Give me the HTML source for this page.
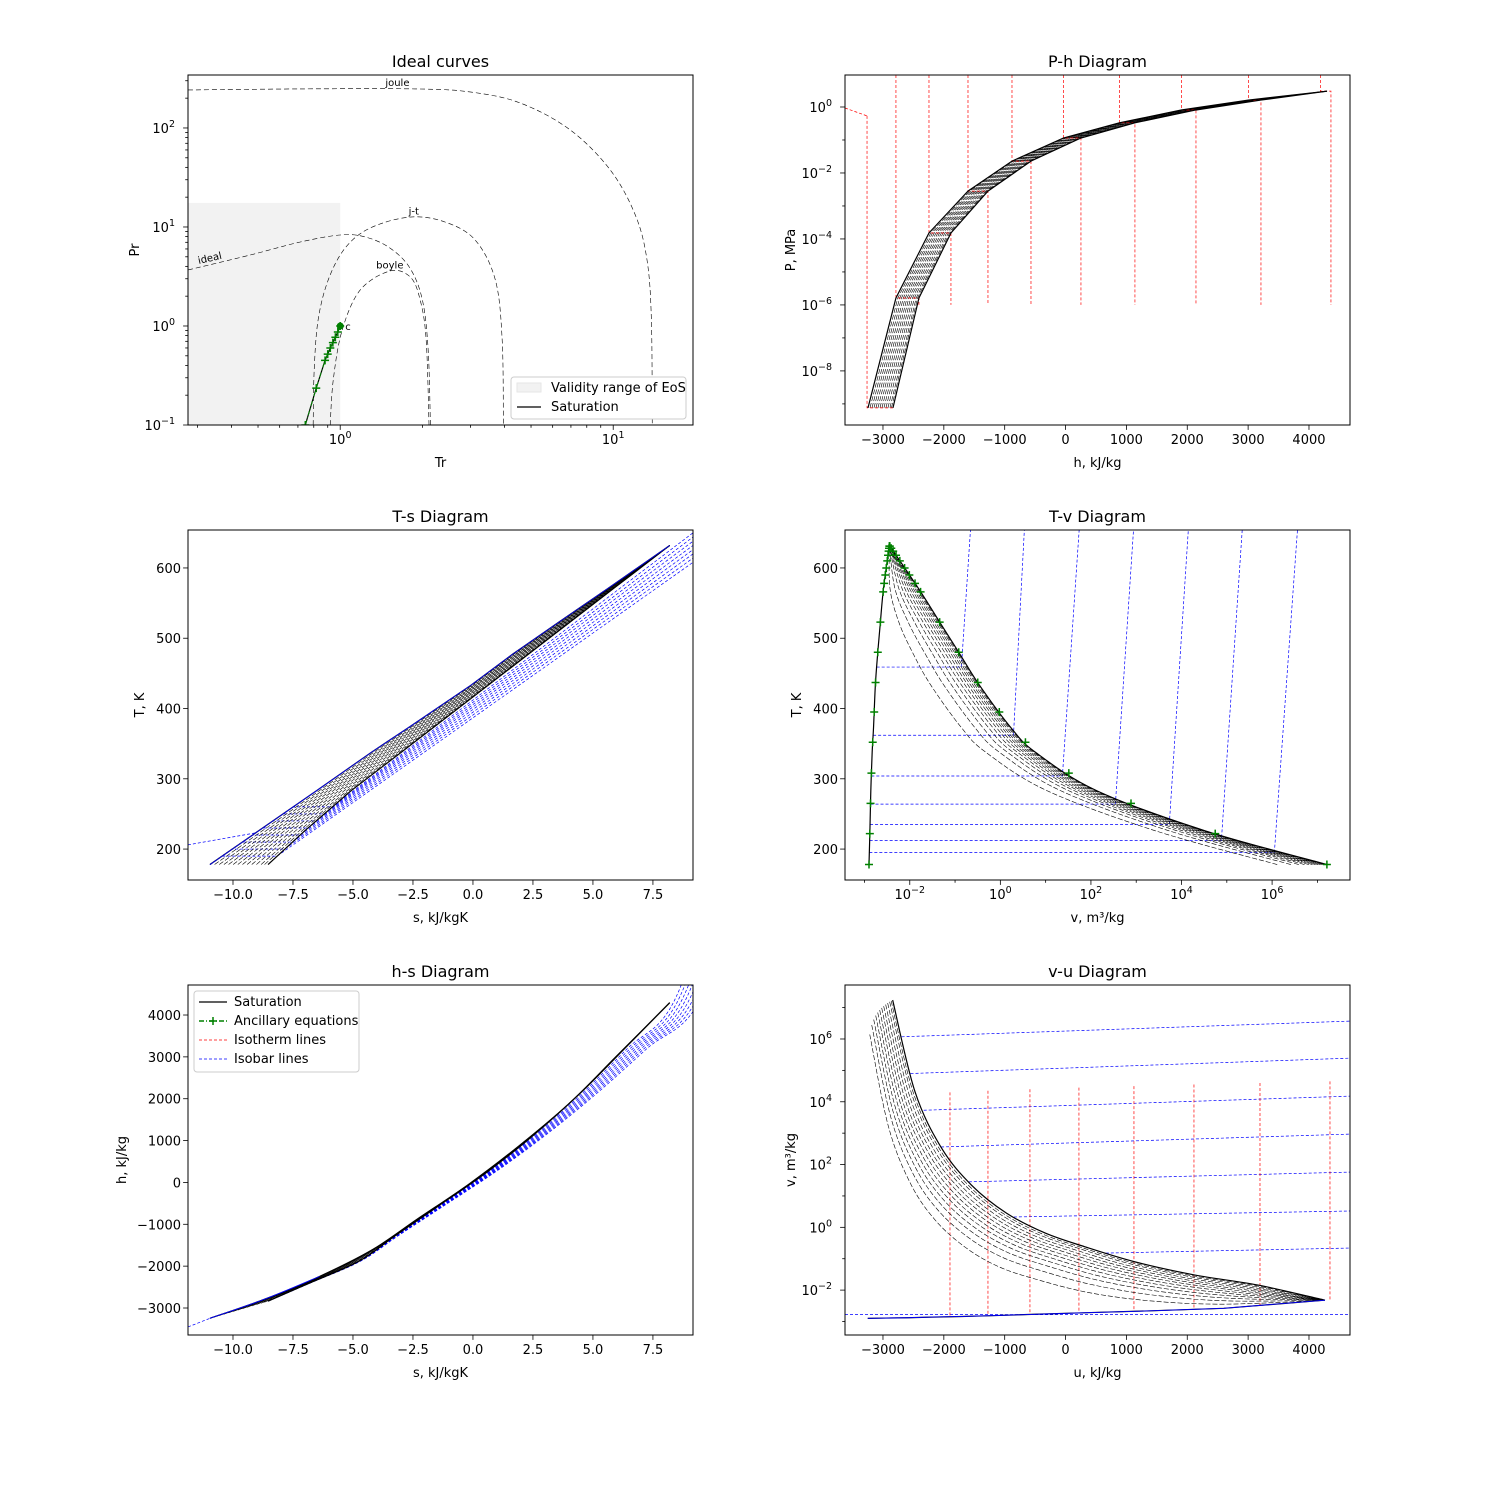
<!DOCTYPE html>
<html><head><meta charset="utf-8"><title>Thermodynamic diagrams</title>
<style>body{margin:0;background:#fff}svg{display:block}text{font-family:"DejaVu Sans","Liberation Sans",sans-serif;fill:#000}</style>
</head><body>
<svg id="chart" width="1500" height="1500" viewBox="0 0 1500 1500"><rect width="1500" height="1500" fill="#fff"/></svg>
<script>
// ---------- data ----------
const satT=[178,226,283,338,373,433,477,522,571,632];
const satLogP=[-9.12,-5.79,-3.82,-2.55,-1.64,-0.94,-0.48,-0.09,0.21,0.48];
const satHl=[-3246,-2787,-2244,-1603,-880,-36,884,1903,3004,4295];
const satHv=[-2836,-2409,-1883,-1275,-568,253,1140,2143,3211,4295];
// T-s entropies
const satSl=[-10.96,-8.93,-6.52,-4.22,-2.68,-0.09,1.64,3.54,5.63,8.2];
const tsSv=[-8.54,-7.01,-5.08,-2.98,-1.65,0.63,2.30,4.01,5.87,8.2];
// h-s entropies
const hsSl=[-10.96,-8.67,-6.39,-4.18,-2.33,-0.16,1.94,4.04,5.96,8.2];
const hsSv=[-8.54,-6.83,-4.75,-3.24,-1.45,0.60,2.55,4.49,6.34,8.2];
// T-v volumes
const satLogVl=[-2.9,-2.88,-2.86,-2.83,-2.8,-2.76,-2.71,-2.65,-2.58,-2.45];
const satLogVv=[7.21,4.52,2.13,0.77,0.23,-0.46,-0.89,-1.33,-1.81,-2.45];
// v-u saturation
const vuUl=[-3250,-2950,-2600,-2200,-1700,-1150,-500,350,1400,2600,4263];
const vuUv=[-2841,-2474,-2036,-1543,-968,-338,319,1141,2127,3162,4263];
const vuLvl=[-2.9,-2.89,-2.88,-2.86,-2.84,-2.81,-2.77,-2.72,-2.66,-2.58,-2.32];
const vuLvv=[7.24,4.32,2.52,1.34,0.45,-0.18,-0.62,-1.10,-1.52,-1.84,-2.32];
const qualities=[0.08,0.16,0.24,0.32,0.4,0.48,0.56,0.64,0.72,0.8,0.88,0.94];
// ideal curves
const jouleTr=[0.277,0.714,1.88,2.99,4.56,6.96,9.75,12.05,13.3,13.8,13.9];
const joulePr=[242,248,248,231,179,95.5,37.7,13.2,4.64,1.15,0.1];
const idealTr=[0.277,0.468,0.714,1.0,1.235,1.52,1.80,2.0,2.10,2.14];
const idealPr=[3.68,5.21,7.05,8.3,7.93,6.14,3.85,1.83,0.573,0.1];
const jtTr=[0.796,0.803,0.830,0.904,1.043,1.288,1.805,2.425,3.12,3.70,3.92,3.96];
const jtPr=[0.1,0.36,1.15,2.92,6.14,9.77,12.6,11.2,7.39,2.92,0.72,0.1];
const boyleTr=[0.919,0.943,1.017,1.184,1.52,1.805,1.963,2.065,2.115];
const boylePr=[0.1,0.285,0.911,2.31,3.59,3.13,1.83,0.72,0.1];
const satTr=[0.745,0.817,0.88,0.9,0.92,0.94,0.96,0.98,1.0];
const satPr=[0.1,0.236,0.45,0.52,0.6,0.68,0.77,0.87,1.0];
const validTrMax=1.0, validPrMax=17.5;
// P-h isotherms
const isoTHl=[-3262,-2787,-2244,-1603,-880,-36,884,1903,3004,4187];
const isoTLogP=[-9.12,-5.79,-3.82,-2.55,-1.64,-0.94,-0.48,-0.09,0.21,0.48];
const isoTHv=[-2836,-2409,-1883,-1275,-568,253,1140,2143,3211,4361];
// T-s isobars
const tsIsoT=[190,200,210,220,230,240,250,260];
const tsIsoEndT=[608,614,620,626,632,638,644,650];
// T-v isobars
const tvIsoT=[195,212,235,264,304,362,459];
const tvIsoLvStart=[6.05,4.88,3.73,2.54,1.37,0.29,-0.86];
const tvIsoLvTop=[6.56,5.34,4.15,2.94,1.74,0.53,-0.66];
const ancT=[178,222,265,308,352,395,437,480,523,566,578,590,600,610,618,624,628,631];
// h-s isobars: entropy shift at the top of the vapor curve
const hsIsoShift=[0.15,0.3,0.45,0.6,0.75,0.9,1.05,1.2];
// v-u
const vuIsoLvStart=[6.07,4.9,3.73,2.56,1.45,0.33,-0.82];
const vuIsoLvEnd=[6.57,5.39,4.18,2.97,1.76,0.52,-0.66];
const vuIsoTU=[-1899,-1275,-585,220,1124,2110,3195,4345];
const vuIsoTTop=[4.3,4.35,4.4,4.45,4.5,4.55,4.6,4.65];

// ---------- helpers ----------
const NS='http://www.w3.org/2000/svg';
const svg=document.getElementById('chart');
function mk(tag,attrs,parent,name){
  const e=document.createElementNS(NS,tag);
  for(const k in attrs) e.setAttribute(k,attrs[k]);
  
  
  parent.appendChild(e);return e;
}
function interp(x,xs,ys){
  if(x<=xs[0])return ys[0];
  for(let i=1;i<xs.length;i++){ if(x<=xs[i]){const f=(x-xs[i-1])/(xs[i]-xs[i-1]);return ys[i-1]+f*(ys[i]-ys[i-1]);} }
  return ys[ys.length-1];
}
let clipN=0;
function axes(name,l,t,r,b,xmin,xmax,ymin,ymax,xlog,ylog){
  const g=mk('g',{},svg,name);
  const id='clip'+(clipN++);
  const cp=mk('clipPath',{id:id},g,name+'-clip');
  mk('rect',{x:l,y:t,width:r-l,height:b-t},cp,name+'-clip-rect');
  const plot=mk('g',{'clip-path':'url(#'+id+')'},g,name+'-plot-area');
  const sx=v=>l+((xlog?Math.log10(v):v)-xmin)/(xmax-xmin)*(r-l);
  const sy=v=>b-((ylog?Math.log10(v):v)-ymin)/(ymax-ymin)*(b-t);
  return {g,plot,l,t,r,b,sx,sy,name};
}
function line(ax,xs,ys,style,name){
  const P=xs.map((x,i)=>[ax.sx(x),ax.sy(ys[i])]);
  let d='M'+P[0][0].toFixed(2)+','+P[0][1].toFixed(2);
  for(let i=1;i<P.length;i++){
    if(style.smooth){
      const p0=P[Math.max(0,i-2)],p1=P[i-1],p2=P[i],p3=P[Math.min(P.length-1,i+1)];
      const c1=[p1[0]+(p2[0]-p0[0])/6,p1[1]+(p2[1]-p0[1])/6],c2=[p2[0]-(p3[0]-p1[0])/6,p2[1]-(p3[1]-p1[1])/6];
      d+='C'+c1[0].toFixed(2)+','+c1[1].toFixed(2)+' '+c2[0].toFixed(2)+','+c2[1].toFixed(2)+' '+p2[0].toFixed(2)+','+p2[1].toFixed(2);
    } else d+='L'+P[i][0].toFixed(2)+','+P[i][1].toFixed(2);
  }
  const a={d:d,fill:'none',stroke:style.c||'#000','stroke-width':style.w||1};
  if(style.dash)a['stroke-dasharray']=style.dash;
  return mk('path',a,ax.plot,name);
}
function plus(ax,x,y,name,parent){
  const X=ax.sx(x),Y=ax.sy(y),s=4;
  mk('path',{d:`M${X-s},${Y}H${X+s}M${X},${Y-s}V${Y+s}`,stroke:'#008000','stroke-width':1.5,fill:'none'},parent||ax.plot,name);
}
function label(parent,x,y,anchor,str,exp,name,size){
  const t=mk('text',{x:x,y:y,'text-anchor':anchor,'font-size':size||13},parent,name);
  t.textContent=str;
  if(exp!==undefined&&exp!==null){
    const ts=mk('tspan',{dy:-6,'font-size':9.5},t,name+'-exponent');
    ts.textContent=exp;
  }
  return t;
}
function mf(v){return (v<0?'\u2212':'')+Math.abs(v);}
function xtick(ax,px,len,lab,exp){
  mk('line',{x1:px,x2:px,y1:ax.b,y2:ax.b+len,stroke:'#000','stroke-width':0.8},ax.g,ax.name+'-x-tick');
  if(lab!==null) label(ax.g,px,ax.b+19,'middle',lab,exp,ax.name+'-x-tick-label');
}
function ytick(ax,py,len,lab,exp){
  mk('line',{x1:ax.l-len,x2:ax.l,y1:py,y2:py,stroke:'#000','stroke-width':0.8},ax.g,ax.name+'-y-tick');
  if(lab!==null) label(ax.g,ax.l-7-(exp!=null?6:0),py+5,'end',lab,exp,ax.name+'-y-tick-label');
}
function logTicksX(ax,lo,hi,labelled,subs){
  for(let e=lo;e<=hi;e++){
    const p=ax.sx(Math.pow(10,e));
    if(p>=ax.l-0.5&&p<=ax.r+0.5){ if(labelled(e)) xtick(ax,p,4.9,'10',mf(e)); else xtick(ax,p,2.8,null); }
    if(subs) for(let s=2;s<10;s++){const q=ax.sx(s*Math.pow(10,e)); if(q>=ax.l&&q<=ax.r) xtick(ax,q,2.8,null);}
  }
}
function logTicksY(ax,lo,hi,labelled,subs){
  for(let e=lo;e<=hi;e++){
    const p=ax.sy(Math.pow(10,e));
    if(p>=ax.t-0.5&&p<=ax.b+0.5){ if(labelled(e)) ytick(ax,p,4.9,'10',mf(e)); else ytick(ax,p,2.8,null); }
    if(subs) for(let s=2;s<10;s++){const q=ax.sy(s*Math.pow(10,e)); if(q>=ax.t&&q<=ax.b) ytick(ax,q,2.8,null);}
  }
}
function frame(ax,title,xl,yl,ylx){
  mk('rect',{x:ax.l,y:ax.t,width:ax.r-ax.l,height:ax.b-ax.t,fill:'none',stroke:'#000','stroke-width':1},ax.g,ax.name+'-frame');
  label(ax.g,(ax.l+ax.r)/2,ax.t-8,'middle',title,null,ax.name+'-title',16);
  label(ax.g,(ax.l+ax.r)/2,ax.b+42,'middle',xl,null,ax.name+'-x-axis-title');
  const yt=mk('text',{x:0,y:0,'text-anchor':'middle','font-size':13,transform:`translate(${ylx},${(ax.t+ax.b)/2}) rotate(-90)`},ax.g,ax.name+'-y-axis-title');
  yt.textContent=yl;
}
const P10=v=>Math.pow(10,v);
const blue={c:'#0000ff',w:0.7,dash:'3,2'}, red={c:'#ff0000',w:0.7,dash:'3,2'}, blk={c:'#000',w:0.6,dash:'5,2'};
const blkS={c:'#000',w:0.6,dash:'5,2',smooth:true};
const sat={c:'#000',w:1.2}, satS={c:'#000',w:1.2,smooth:true};

// ---------- 1. Ideal curves ----------
(function(){
  const ax=axes('ideal-curves-chart',188,75,693,425,Math.log10(0.277),Math.log10(19.6),-1,2.535,true,true);
  mk('rect',{x:ax.l,y:ax.sy(validPrMax),width:ax.sx(validTrMax)-ax.l,height:ax.b-ax.sy(validPrMax),fill:'#f2f2f2'},ax.plot,'validity-range-area');
  const dsh={c:'#000',w:0.6,dash:'5,3',smooth:true};
  line(ax,jouleTr,joulePr,dsh,'joule-curve');
  line(ax,idealTr,idealPr,dsh,'ideal-curve');
  line(ax,jtTr,jtPr,dsh,'jt-curve');
  line(ax,boyleTr,boylePr,dsh,'boyle-curve');
  line(ax,satTr,satPr,{c:'#000',w:1.2},'saturation-line');
  line(ax,satTr,satPr,{c:'#008000',w:1,dash:'5,2,1,2'},'ancillary-line');
  for(let i=0;i<satTr.length;i++) plus(ax,satTr[i],satPr[i],'ancillary-marker');
  mk('circle',{cx:ax.sx(1),cy:ax.sy(1),r:3.5,fill:'#008000'},ax.plot,'critical-point');
  label(ax.plot,ax.sx(1)+5,ax.sy(1)+4,'start','c',null,'critical-point-label',10);
  label(ax.plot,ax.sx(1.62),ax.sy(265),'middle','joule',null,'joule-label',10);
  label(ax.plot,ax.sx(1.86),ax.sy(13.3),'middle','j-t',null,'jt-label',10);
  label(ax.plot,ax.sx(1.52),ax.sy(3.8),'middle','boyle',null,'boyle-label',10);
  const il=mk('text',{x:0,y:0,'font-size':10,'text-anchor':'middle',transform:`translate(${ax.sx(0.335)},${ax.sy(4.5)}) rotate(-13)`},ax.plot,'ideal-label');il.textContent='ideal';
  logTicksX(ax,-1,1,e=>e>=0,true);
  logTicksY(ax,-1,2,e=>true,true);
  frame(ax,'Ideal curves','Tr','Pr',139);
  const lg=mk('g',{},ax.g,'ideal-legend');
  mk('rect',{x:511,y:377,width:175,height:42,rx:3,fill:'#fff',stroke:'#ccc','stroke-width':1},lg,'legend-box');
  mk('rect',{x:517,y:383,width:24,height:9,fill:'#f2f2f2',stroke:'#e6e6e6'},lg,'legend-validity-patch');
  label(lg,551,392,'start','Validity range of EoS',null,'legend-validity-text');
  mk('line',{x1:517,x2:541,y1:407,y2:407,stroke:'#000','stroke-width':1.2},lg,'legend-saturation-line');
  label(lg,551,411,'start','Saturation',null,'legend-saturation-text');
})();

// ---------- 2. P-h ----------
(function(){
  const ax=axes('ph-chart',845,75,1350,425,-3624,4674,-9.64,0.97,false,true);
  for(const q of qualities){const h=satHl.map((v,i)=>v+q*(satHv[i]-v));line(ax,h,satLogP.map(P10),blk,'quality-line');}
  line(ax,[-3624,isoTHl[0]],[P10(-0.03),P10(-0.27)],red,'isotherm-line');
  for(let i=0;i<isoTHl.length;i++){
    const hs=[isoTHl[i],isoTHl[i],isoTHv[i]], ps=[i===0?P10(-0.27):P10(0.97),P10(isoTLogP[i]),P10(isoTLogP[i])];
    if(isoTLogP[i]>-6){hs.push(isoTHv[i]);ps.push(P10(-6));}
    line(ax,hs,ps,red,'isotherm-line');
  }
  line(ax,satHl,satLogP.map(P10),sat,'saturation-liquid-line');
  line(ax,satHv,satLogP.map(P10),sat,'saturation-vapor-line');
  for(let v=-3000;v<=4000;v+=1000) xtick(ax,ax.sx(v),4.9,mf(v));
  logTicksY(ax,-9,0,e=>e%2===0,false);
  frame(ax,'P-h Diagram','h, kJ/kg','P, MPa',795);
})();

// ---------- 3. T-s ----------
(function(){
  const ax=axes('ts-chart',188,530,693,880,-11.875,9.17,156,654,false,false);
  line(ax,[-11.875,-9.07],[206,223],blue,'isobar-line');
  for(let k=0;k<tsIsoT.length;k++){
    const T=tsIsoT[k],sl=interp(T,satT,satSl),sv=interp(T,satT,tsSv);
    line(ax,[satSl[0],sl,sv,9.17],[satT[0],T,T,tsIsoEndT[k]],blue,'isobar-line');
  }
  for(const q of qualities){const s=satSl.map((v,i)=>v+q*(tsSv[i]-v));line(ax,s,satT,blk,'quality-line');}
  line(ax,satSl,satT,sat,'saturation-liquid-line');
  line(ax,tsSv,satT,sat,'saturation-vapor-line');
  line(ax,satSl,satT,{c:'#0000ff',w:0.8},'isobar-liquid-line');
  for(let v=-10;v<=7.5;v+=2.5) xtick(ax,ax.sx(v),4.9,mf(v.toFixed(1)*1).replace(/^(\u2212?\d+)$/,'$1.0'));
  for(let v=200;v<=600;v+=100) ytick(ax,ax.sy(v),4.9,String(v));
  frame(ax,'T-s Diagram','s, kJ/kgK','T, K',144);
})();

// ---------- 4. T-v ----------
(function(){
  const ax=axes('tv-chart',845,530,1350,880,-3.43,7.72,156,654,true,false);
  for(let k=0;k<tvIsoT.length;k++){
    const T=tvIsoT[k],lv=interp(T,satT,satLogVl);
    line(ax,[P10(lv),P10(tvIsoLvStart[k]),P10(tvIsoLvTop[k])],[T,T,654],blue,'isobar-line');
  }
  for(const q of qualities){const v=satLogVl.map((lv,i)=>P10(lv)+q*(P10(satLogVv[i])-P10(lv)));line(ax,v,satT,blkS,'quality-line');}
  line(ax,satLogVl.map(P10),satT,satS,'saturation-liquid-line');
  line(ax,satLogVv.map(P10),satT,satS,'saturation-vapor-line');
  for(const T of ancT){plus(ax,P10(interp(T,satT,satLogVl)),T,'ancillary-marker');plus(ax,P10(interp(T,satT,satLogVv)),T,'ancillary-marker');}
  logTicksX(ax,-3,7,e=>e%2===0,false);
  for(let v=200;v<=600;v+=100) ytick(ax,ax.sy(v),4.9,String(v));
  frame(ax,'T-v Diagram','v, m\u00b3/kg','T, K',801);
})();

// ---------- 5. h-s ----------
(function(){
  const ax=axes('hs-chart',188,985,693,1335,-11.875,9.17,-3645,4717,false,false);
  line(ax,[-11.875,hsSl[0]],[-3453,satHl[0]],blue,'isobar-line');
  const hMin=satHv[0],hMax=satHv[satHv.length-1];
  for(let k=0;k<hsIsoShift.length;k++){
    const sh=hsIsoShift[k];
    const xs=hsSv.map((s,j)=>s+sh*Math.pow((satHv[j]-hMin)/(hMax-hMin),1.5));
    const ys=satHv.slice();
    xs.push(xs[xs.length-1]+2);ys.push(hMax+2*1600);
    line(ax,xs,ys,{c:'#0000ff',w:0.7,dash:'3,2',smooth:true},'isobar-line');
  }
  for(const q of qualities){line(ax,hsSl.map((v,i)=>v+q*(hsSv[i]-v)),satHl.map((v,i)=>v+q*(satHv[i]-v)),blkS,'quality-line');}
  line(ax,hsSv,satHv,satS,'saturation-vapor-line');
  line(ax,hsSl,satHl,satS,'saturation-liquid-line');
  line(ax,hsSl.slice(0,3),satHl.slice(0,3),{c:'#0000ff',w:0.9,smooth:true},'isobar-liquid-line');
  for(let v=-10;v<=7.5;v+=2.5) xtick(ax,ax.sx(v),4.9,mf(v.toFixed(1)*1).replace(/^(\u2212?\d+)$/,'$1.0'));
  for(let v=-3000;v<=4000;v+=1000) ytick(ax,ax.sy(v),4.9,mf(v));
  frame(ax,'h-s Diagram','s, kJ/kgK','h, kJ/kg',126);
  const lg=mk('g',{},ax.g,'main-legend');
  mk('rect',{x:194,y:991,width:165,height:81,rx:3,fill:'#fff',stroke:'#ccc','stroke-width':1},lg,'legend-box');
  mk('line',{x1:199,x2:227,y1:1002,y2:1002,stroke:'#000','stroke-width':1.2},lg,'legend-saturation-line');
  label(lg,234,1006,'start','Saturation',null,'legend-saturation-text');
  mk('line',{x1:199,x2:227,y1:1021,y2:1021,stroke:'#008000','stroke-width':1.5,'stroke-dasharray':'5,2,1,2'},lg,'legend-ancillary-line');
  mk('path',{d:'M209,1021H217M213,1017V1025',stroke:'#008000','stroke-width':1.5},lg,'legend-ancillary-marker');
  label(lg,234,1025,'start','Ancillary equations',null,'legend-ancillary-text');
  mk('line',{x1:199,x2:227,y1:1040,y2:1040,stroke:'#ff0000','stroke-width':0.7,'stroke-dasharray':'3,2'},lg,'legend-isotherm-line');
  label(lg,234,1044,'start','Isotherm lines',null,'legend-isotherm-text');
  mk('line',{x1:199,x2:227,y1:1059,y2:1059,stroke:'#0000ff','stroke-width':0.7,'stroke-dasharray':'3,2'},lg,'legend-isobar-line');
  label(lg,234,1063,'start','Isobar lines',null,'legend-isobar-text');
})();

// ---------- 6. v-u ----------
(function(){
  const ax=axes('vu-chart',845,985,1350,1335,-3624,4674,-3.43,7.72,false,true);
  const negV=vuLvv.map(v=>-v);
  for(let k=0;k<vuIsoLvStart.length;k++){
    const u0=interp(-vuIsoLvStart[k],negV,vuUv);
    line(ax,[u0,4674],[P10(vuIsoLvStart[k]),P10(vuIsoLvEnd[k])],blue,'isobar-line');
  }
  line(ax,[-3624,4674],[P10(-2.78),P10(-2.78)],blue,'isobar-line');
  for(let k=0;k<vuIsoTU.length;k++){
    const lv=interp(vuIsoTU[k],vuUl,vuLvl);
    line(ax,[vuIsoTU[k],vuIsoTU[k]],[P10(vuIsoTTop[k]),P10(lv)],red,'isotherm-line');
  }
  for(const q of qualities){line(ax,vuUl.map((u,i)=>u+q*(vuUv[i]-u)),vuLvl.map((lv,i)=>P10(lv)+q*(P10(vuLvv[i])-P10(lv))),blkS,'quality-line');}
  line(ax,vuUl,vuLvl.map(P10),sat,'saturation-liquid-line');
  line(ax,vuUv,vuLvv.map(P10),satS,'saturation-vapor-line');
  line(ax,vuUl,vuLvl.map(P10),{c:'#0000ff',w:0.9},'isobar-liquid-line');
  for(let v=-3000;v<=4000;v+=1000) xtick(ax,ax.sx(v),4.9,mf(v));
  logTicksY(ax,-3,7,e=>e%2===0,false);
  frame(ax,'v-u Diagram','u, kJ/kg','v, m\u00b3/kg',795);
})();
</script>
</body></html>
